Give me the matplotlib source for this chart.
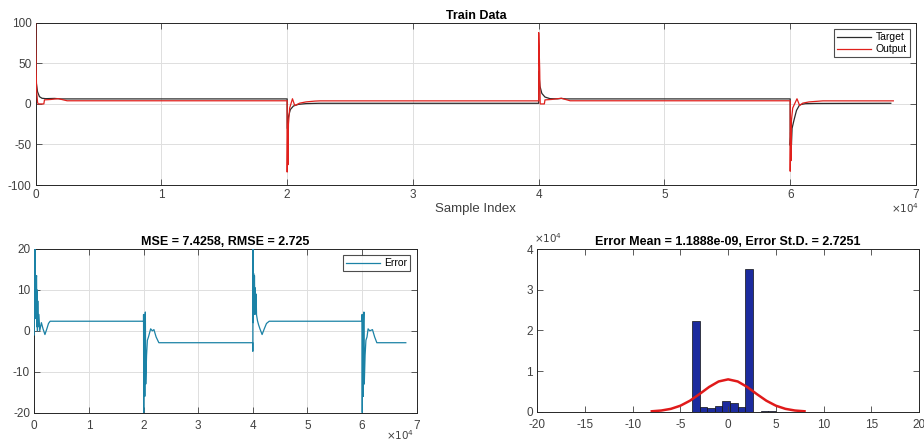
import numpy as np
import matplotlib
matplotlib.use("Agg")
import matplotlib.pyplot as plt
from matplotlib.ticker import FuncFormatter

plt.rcParams['font.family'] = ['Liberation Sans', 'DejaVu Sans']
plt.rcParams['axes.unicode_minus'] = False

# --- data (sample index, value) ---
target_x = [0, 60, 150, 300, 500, 800, 1500, 2000, 19999,
            20000, 20100, 20250, 20500, 20900, 21500, 22500, 39999,
            40000, 40100, 40250, 40500, 40900, 41500, 41800, 42200, 59999,
            60000, 60050, 60100, 60150, 60300, 60500, 60750, 61200, 62000, 68000]
target_y = [32, 25, 15, 9, 7, 6.5, 6.8, 6.2, 6.2,
            -30, -16, -7, -2.5, -0.5, 0.4, 0.8, 0.8,
            40, 22, 13, 8.5, 6.5, 6.3, 6.8, 6.2, 6.2,
            -51, -35, -50, -30, -20, -8, -1, 0.3, 0.6, 0.8]

output_x = [0, 20, 40, 80, 150, 200, 650, 700, 1200, 1800, 2500, 19999,
            20000, 20030, 20060, 20100, 20200, 20420, 20600, 21000, 21500, 22200, 22600, 39999,
            40000, 40040, 40080, 40120, 40450, 40500, 41000, 41800, 42500, 59999,
            60000, 60030, 60060, 60100, 60200, 60540, 60750, 61000, 61500, 62600, 68200]
output_y = [100, 65, 40, 15, 2, 0, 0, 5, 5.5, 6.5, 3.9, 3.9,
            -84, -30, -75, -25, -5, 6.4, -2, 1, 2.5, 3.5, 3.8, 3.8,
            88, 65, 42, 0, 0, 5, 5.5, 7, 3.9, 3.9,
            -83, -35, -70, -20, -5, 6.4, -2, 1, 2.5, 3.8, 3.8]

error_x = [0, 30, 80, 120, 200, 300, 420, 460, 520, 580, 640, 720, 850, 1000, 1300, 1600, 1950, 2300, 2600, 2900, 19999,
           20000, 20030, 20080, 20130, 20180, 20230, 20280, 20330, 20400, 20550, 20700, 20900, 21300, 21600, 21900, 22300, 22800, 39999,
           40000, 40030, 40080, 40150, 40220, 40300, 40380, 40450, 40520, 40600, 40680, 40850, 41050, 41300, 41700, 42100, 42500, 43000, 59999,
           60000, 60030, 60080, 60130, 60180, 60230, 60280, 60330, 60400, 60550, 60700, 60900, 61100, 61400, 61900, 62300, 62700, 68000]
error_y = [-1, 20, 4, 20, 3, 12, 13.5, 1, 10, 0, 7.3, 1, 4, 0, 2, 0.5, -0.9, 0.5, 1.8, 2.35, 2.35,
           4, -20, 3.5, -8, 4, -16, 2, 4.6, -13, -6, -2.3, -1.5, 0.5, 0, 0.3, -1.5, -2.9, -2.9,
           -5, 20, 2, 14, 4, 13.5, 4, 10.5, 4.5, 9, 3.9, 2.5, 1.5, 0.5, -0.9, 0.5, 1.8, 2.35, 2.35,
           4, -20, 3.5, -8, 4, -16, 2, 4.6, -13, -6, -2.3, -1.5, 0.5, 0, 0.3, -1.5, -2.9, -2.9]

hist_left = [-3.8, -3.0, -2.2, -1.4, -0.6, 0.2, 1.0, 1.8, 3.4, 4.2]
hist_count = [22300, 1200, 980, 1350, 2600, 2050, 1200, 35200, 120, 80]
bin_width = 0.8

fit_x = [-8, -7, -6, -5, -4, -3, -2, -1, 0, 1, 2, 3, 4, 5, 6, 7, 8]
fit_y = [107, 294, 705, 1480, 2710, 4340, 6080, 7440, 7960,
         7440, 6080, 4340, 2710, 1480, 705, 294, 107]

# --- styling helpers ---
axc = '#262626'
gridc = '#dedede'
e4 = FuncFormatter(lambda v, p: f'{v / 1e4:g}')


def style(ax, grid=True, xpad=3):
    ax.tick_params(direction='in', top=True, right=True, length=4, width=0.6,
                   labelsize=8.5, colors='#404040', pad=3)
    ax.tick_params(axis='x', pad=xpad)
    for s in ax.spines.values():
        s.set_color(axc)
        s.set_linewidth(0.7)
    if grid:
        ax.grid(True, color=gridc, linewidth=0.7)
        ax.set_axisbelow(True)


fig = plt.figure(figsize=(9.24, 4.48), dpi=100)

# top: train data
ax1 = fig.add_axes([0.0386, 0.587, 0.9527, 0.362])
ax1.plot(target_x, target_y, color='#2b2b2b', lw=0.9, label='Target', zorder=3)
ax1.plot(output_x, output_y, color='#e0201c', lw=0.9, label='Output', zorder=3)
ax1.set_xlim(0, 70000)
ax1.set_ylim(-100, 100)
ax1.set_xticks(np.arange(0, 70001, 10000))
ax1.set_yticks([-100, -50, 0, 50, 100])
ax1.xaxis.set_major_formatter(e4)
style(ax1)
ax1.set_title('Train Data', fontsize=9, fontweight='bold', pad=3)
ax1.set_xlabel('Sample Index', fontsize=9.5, color='#404040', labelpad=1)
leg = ax1.legend(loc='upper right', fontsize=7.5, fancybox=False, edgecolor='#202020',
                 handlelength=3.3, borderaxespad=0.6, borderpad=0.3, labelspacing=0.2,
                 handletextpad=0.4)
leg.get_frame().set_linewidth(0.8)
fig.text(0.979, 0.525, r'$\times10^{4}$', fontsize=7.5, color='#404040', ha='center')

# bottom left: error
ax2 = fig.add_axes([0.0371, 0.0788, 0.4139, 0.3654])
ax2.plot(error_x, error_y, color='#1b82a6', lw=0.9, label='Error', zorder=3)
ax2.set_xlim(0, 70000)
ax2.set_ylim(-20, 20)
ax2.set_xticks(np.arange(0, 70001, 10000))
ax2.set_yticks([-20, -10, 0, 10, 20])
ax2.xaxis.set_major_formatter(e4)
style(ax2, xpad=5)
ax2.set_title('MSE = 7.4258, RMSE = 2.725', fontsize=9, fontweight='bold', pad=3)
leg2 = ax2.legend(loc='upper right', fontsize=7.5, fancybox=False, edgecolor='#202020',
                  handlelength=3.3, borderaxespad=0.6, borderpad=0.3, handletextpad=0.4)
leg2.get_frame().set_linewidth(0.8)
fig.text(0.433, 0.018, r'$\times10^{4}$', fontsize=7.5, color='#404040', ha='center')

# bottom right: error histogram with fit
ax3 = fig.add_axes([0.5815, 0.081, 0.4131, 0.363])
ax3.bar(hist_left, hist_count, width=bin_width, align='edge', color='#1c2b9e',
        edgecolor='#101010', linewidth=0.5)
ax3.plot(fit_x, fit_y, color='#e01a1a', lw=1.8)
ax3.set_xlim(-20, 20)
ax3.set_ylim(0, 40000)
ax3.set_xticks(np.arange(-20, 21, 5))
ax3.set_yticks(np.arange(0, 40001, 10000))
ax3.yaxis.set_major_formatter(e4)
style(ax3, grid=False, xpad=5)
ax3.set_title('Error Mean = 1.1888e-09, Error St.D. = 2.7251', fontsize=9,
              fontweight='bold', pad=3)
fig.text(0.593, 0.458, r'$\times10^{4}$', fontsize=7.5, color='#404040', ha='center')

fig.savefig('out.png', dpi=100)
